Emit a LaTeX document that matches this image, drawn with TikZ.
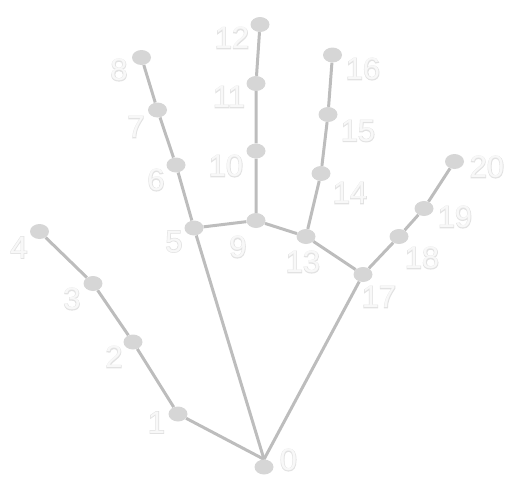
\documentclass[tikz,border=0pt]{standalone}
\usepackage{fontspec}
\setmainfont{Liberation Sans}
\newfontfamily\lblfillfont{Liberation Sans}
\newfontfamily\lbledgefont[FakeBold=4]{Liberation Sans}
\usetikzlibrary{shapes.geometric,backgrounds}
\definecolor{ptgray}{HTML}{D6D6D6}
\definecolor{bonegray}{HTML}{BDBDBD}
\definecolor{lbledge}{HTML}{E2E2E2}
\definecolor{lblfill}{HTML}{F8F8F8}
\tikzset{
  joint/.style={ellipse, fill=ptgray, minimum width=19pt, minimum height=15pt, inner sep=0pt},
  bone/.style={draw=bonegray, line width=3pt},
  lbledgestyle/.style={text=lbledge, font=\lbledgefont\fontsize{31}{31}\selectfont, inner sep=0pt},
  lblfillstyle/.style={text=lblfill, font=\lblfillfont\fontsize{31}{31}\selectfont, inner sep=0pt},
}
\newcommand{\handlbl}[3]{%
  \node[lbledgestyle] (#1o) at (#2) {#3};
  \node[lblfillstyle] (#1) at (#2) {#3};
}
\begin{document}
\begin{tikzpicture}[x=1pt,y=-1pt]
\useasboundingbox (0,0) rectangle (517,483);
% joints
\node[joint] (n0) at (264,467) {};
\node[joint] (n1) at (178,414) {};
\node[joint] (n2) at (133,342) {};
\node[joint] (n3) at (93,283.5) {};
\node[joint] (n4) at (39.5,231.5) {};
\node[joint] (n5) at (194,228) {};
\node[joint] (n6) at (176,165) {};
\node[joint] (n7) at (157.5,110) {};
\node[joint] (n8) at (141.5,57.5) {};
\node[joint] (n9) at (256,220.5) {};
\node[joint] (n10) at (256,151) {};
\node[joint] (n11) at (256,83.5) {};
\node[joint] (n12) at (260,24.5) {};
\node[joint] (n13) at (306,236.5) {};
\node[joint] (n14) at (321,173.5) {};
\node[joint] (n15) at (328,114.5) {};
\node[joint] (n16) at (332.5,55) {};
\node[joint] (n17) at (363,274.5) {};
\node[joint] (n18) at (399,236.5) {};
\node[joint] (n19) at (424,208.5) {};
\node[joint] (n20) at (454.5,161.5) {};
% bones
\begin{pgfonlayer}{background}
\draw[bone] (n0.north) -- (n1) -- (n2) -- (n3) -- (n4);
\draw[bone] (n0.north) -- (n5) -- (n6) -- (n7) -- (n8);
\draw[bone] (n5) -- (n9) -- (n10) -- (n11) -- (n12);
\draw[bone] (n9) -- (n13) -- (n14) -- (n15) -- (n16);
\draw[bone] (n13) -- (n17) -- (n18) -- (n19) -- (n20);
\draw[bone] (n0.north) -- (n17);
\end{pgfonlayer}
% labels
\handlbl{l0}{288.5,460}{0}
\handlbl{l1}{156.5,422.5}{1}
\handlbl{l2}{114,357}{2}
\handlbl{l3}{72,299}{3}
\handlbl{l4}{19,247.5}{4}
\handlbl{l5}{174,241.5}{5}
\handlbl{l6}{156,180}{6}
\handlbl{l7}{136,127}{7}
\handlbl{l8}{119,70}{8}
\handlbl{l9}{238,247}{9}
\handlbl{l10}{226,166}{10}
\handlbl{l11}{229,97}{11}
\handlbl{l12}{232,38}{12}
\handlbl{l13}{303,262}{13}
\handlbl{l14}{350,193}{14}
\handlbl{l15}{358,131}{15}
\handlbl{l16}{363,69}{16}
\handlbl{l17}{379,297}{17}
\handlbl{l18}{422,258}{18}
\handlbl{l19}{455,217}{19}
\handlbl{l20}{487,167}{20}
\end{tikzpicture}
\end{document}
